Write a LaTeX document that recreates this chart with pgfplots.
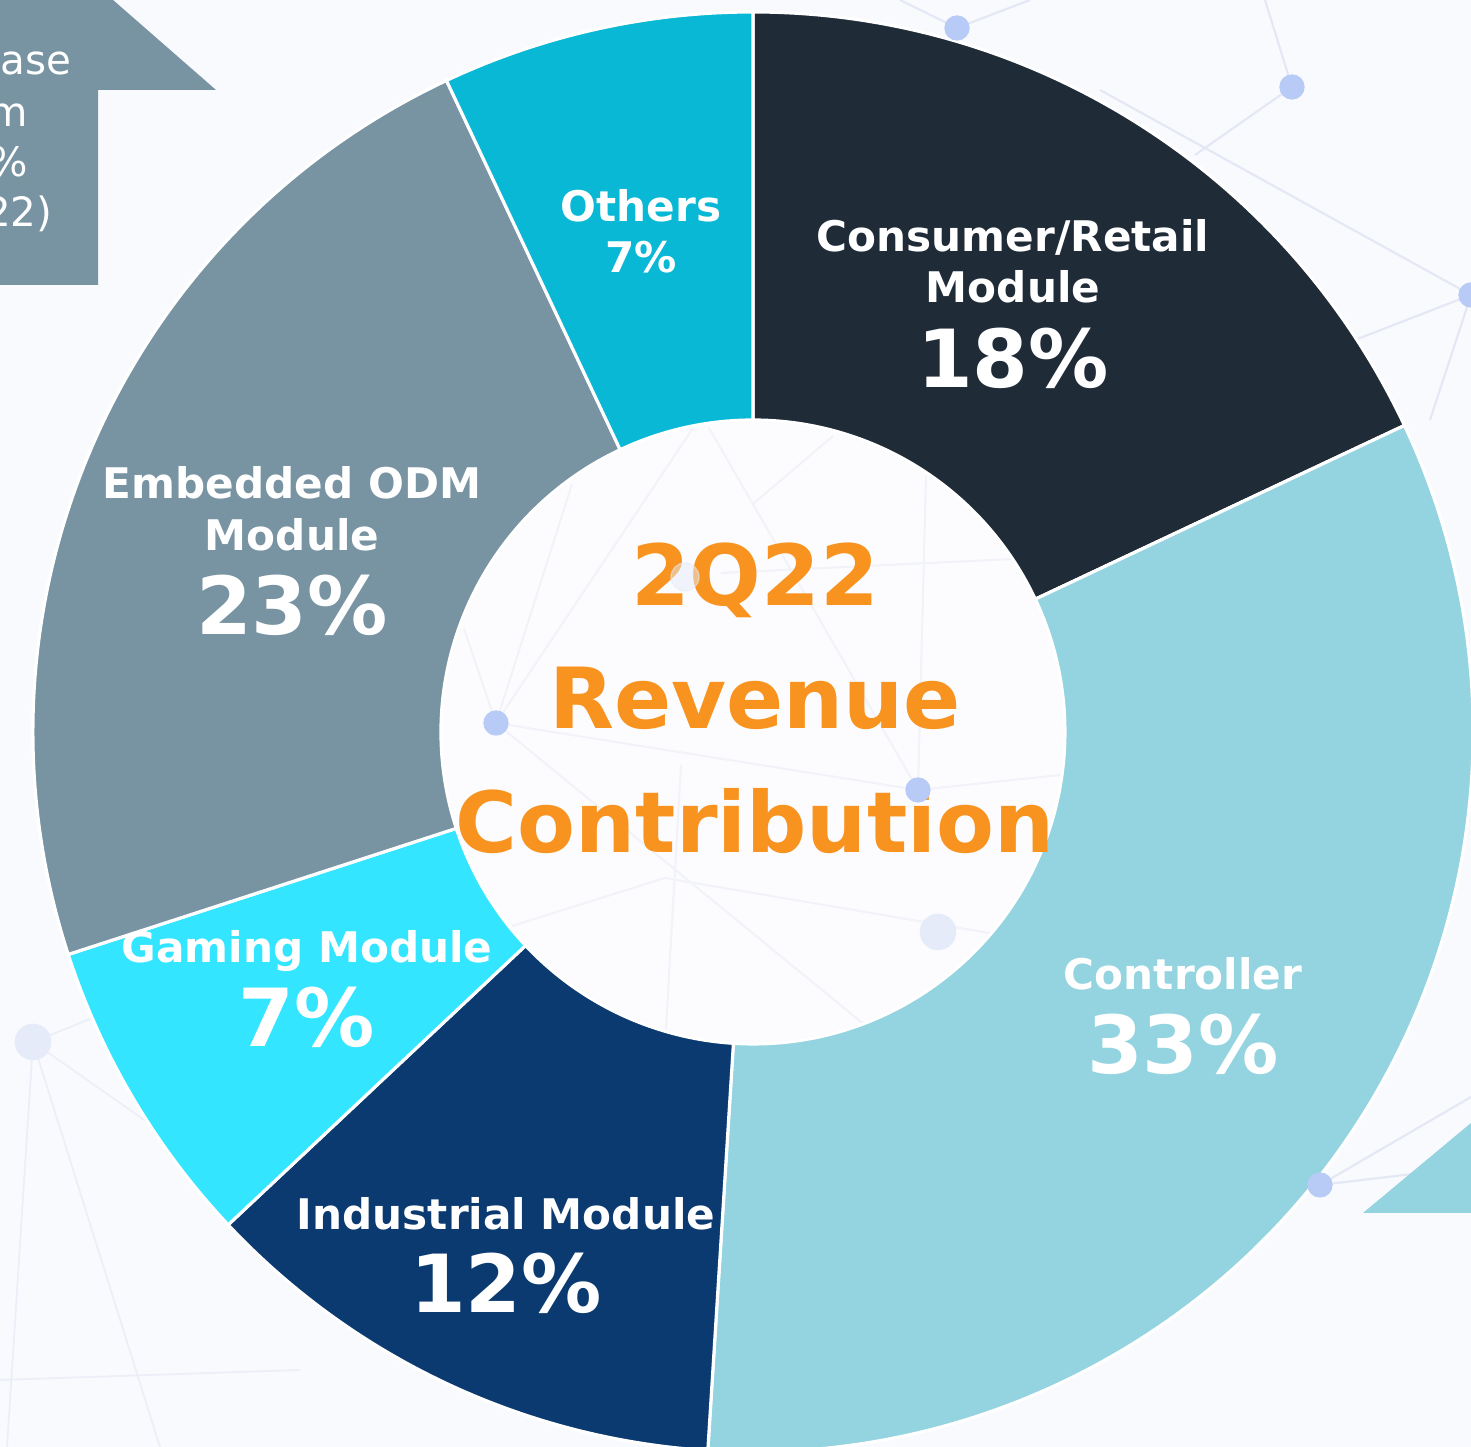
\documentclass[border=0pt]{standalone}
\usepackage{pgfplots}
\pgfplotsset{compat=1.18}
\usepackage{pgfplotstable}
\usepackage{fontspec}
\setmainfont{DejaVu Sans}
\definecolor{bgc}{HTML}{F9FAFD}
\definecolor{netl}{HTML}{E4E8F4}
\definecolor{dotc}{HTML}{B8CBF6}
\definecolor{dotf}{HTML}{E6EBF9}
\definecolor{arrowgrey}{HTML}{7893A1}
\definecolor{orangec}{HTML}{F7931E}
\definecolor{segc0}{HTML}{202B38}
\definecolor{segc1}{HTML}{93D4E0}
\definecolor{segc2}{HTML}{0B3A70}
\definecolor{segc3}{HTML}{33E5FF}
\definecolor{segc4}{HTML}{7893A2}
\definecolor{segc5}{HTML}{08B8D4}
\pgfplotstableread{
seg value
Consumer 18
Controller 33
Industrial 12
Gaming 7
Embedded 23
Others 7
}\revtable
\pgfplotstablecreatecol[create col/expr accum={\pgfmathaccuma + \thisrow{value}}{0}]{cum}\revtable
\newcommand{\cx}{7.53}
\newcommand{\cy}{7.15}
\newcommand{\Rout}{7.20}
\newcommand{\Rin}{3.12}
\begin{document}
\begin{tikzpicture}
\path[use as bounding box] (0,0) rectangle (14.71,14.47);
\clip (0,0) rectangle (14.71,14.47);
\begin{axis}[x=1cm,y=1cm,xmin=0,xmax=14.71,ymin=0,ymax=14.47,hide axis,clip=true]
\fill[bgc] (axis cs:0,0) rectangle (axis cs:14.71,14.47);
% background network
\addplot[netl, line width=0.6pt, no marks] coordinates {(12.65,14.47) (12.92,13.60) (11.95,12.92)};
\addplot[netl, line width=0.6pt, no marks] coordinates {(11.00,13.57) (14.71,11.52)};
\addplot[netl, line width=0.6pt, no marks] coordinates {(13.55,11.07) (14.71,11.52) (14.30,10.27)};
\addplot[netl, line width=0.6pt, no marks] coordinates {(9.00,14.47) (9.57,14.19) (10.30,14.47)};
\addplot[netl, line width=0.5pt, no marks, opacity=0.6] coordinates {(0.07,0) (0.33,4.05) (1.60,0)};
\addplot[netl, line width=0.5pt, no marks, opacity=0.6] coordinates {(1.00,4.32) (0.33,4.05) (1.80,3.02)};
\addplot[netl, line width=0.5pt, no marks, opacity=0.6] coordinates {(0,0.67) (3.00,0.77)};
\addplot[netl, line width=0.6pt, no marks] coordinates {(14.71,3.50) (13.20,2.62) (14.30,2.75)};
\addplot[netl, line width=0.6pt, no marks] coordinates {(9.18,6.57) (4.96,7.24) (6.93,10.19)};
\addplot[netl, line width=0.6pt, no marks] coordinates {(5.72,9.63) (4.96,7.24) (4.64,8.18)};
\addplot[netl, line width=0.6pt, no marks] coordinates {(4.96,7.24) (8.66,4.21)};
\addplot[netl, line width=0.6pt, no marks] coordinates {(7.09,10.19) (9.18,6.57) (10.60,6.72)};
\addplot[netl, line width=0.6pt, no marks] coordinates {(9.26,9.71) (9.18,6.57)};
\addplot[netl, line width=0.6pt, no marks] coordinates {(7.53,9.43) (8.33,10.11)};
\addplot[netl, line width=0.6pt, no marks] coordinates {(7.21,8.74) (10.54,8.90)};
\addplot[netl, line width=0.6pt, no marks] coordinates {(5.12,5.21) (6.65,5.69) (10.42,5.05)};
\addplot[netl, line width=0.6pt, no marks] coordinates {(6.81,6.82) (6.65,4.01)};
\addplot[only marks, mark=*, color=dotf, mark size=5pt] coordinates {(9.38,5.15) (0.33,4.05)};
\addplot[only marks, mark=*, color=dotf, mark size=4pt, opacity=0.5] coordinates {(6.85,8.70)};
\addplot[only marks, mark=*, color=dotc, mark size=3.4pt] coordinates {(9.57,14.19) (12.92,13.60) (14.71,11.52) (4.96,7.24) (9.18,6.57) (13.20,2.62)};
% arrow shapes
\fill[arrowgrey] (axis cs:0,14.47) -- (axis cs:1.13,14.47) -- (axis cs:2.16,13.57) -- (axis cs:0.98,13.57) -- (axis cs:0.98,11.62) -- (axis cs:0,11.62) -- cycle;
\fill[segc1] (axis cs:13.63,2.34) -- (axis cs:14.71,2.34) -- (axis cs:14.71,3.24) -- cycle;
% donut wedges
\pgfplotsinvokeforeach{0,...,5}{
  \pgfplotstablegetelem{#1}{value}\of\revtable \let\segval=\pgfplotsretval
  \pgfplotstablegetelem{#1}{cum}\of\revtable \let\segcum=\pgfplotsretval
  \pgfmathsetmacro\aA{90-3.6*(\segcum-\segval)}
  \pgfmathsetmacro\aB{90-3.6*\segcum}
  \pgfmathsetmacro\xA{\cx+\Rout*cos(\aA)}
  \pgfmathsetmacro\yA{\cy+\Rout*sin(\aA)}
  \pgfmathsetmacro\xB{\cx+\Rin*cos(\aB)}
  \pgfmathsetmacro\yB{\cy+\Rin*sin(\aB)}
  \edef\temp{\noexpand\fill[fill=segc#1, draw=white, line width=0.9pt, line join=miter] (axis cs:\xA,\yA) arc[start angle=\aA, end angle=\aB, radius=\Rout] -- (axis cs:\xB,\yB) arc[start angle=\aB, end angle=\aA, radius=\Rin] -- cycle;}
  \temp
}
\fill[white, opacity=0.5] (axis cs:\cx,\cy) circle[radius=3.10];
% arrow text
\tikzset{arr/.style={anchor=base east, text=white, inner sep=0pt, font=\fontsize{11.5}{13}\selectfont}}
\node[arr] at (axis cs:0.72,13.72) {ase};
\node[arr] at (axis cs:0.29,13.20) {m};
\node[arr] at (axis cs:0.29,12.70) {0\%};
\node[arr] at (axis cs:0.53,12.20) {22)};
% labels
\tikzset{lab/.style={anchor=base, text=white, inner sep=0pt, font=\bfseries\fontsize{12}{14}\selectfont},
         pct/.style={anchor=base, text=white, inner sep=0pt, font=\bfseries\fontsize{22.8}{26}\selectfont},
         ctr/.style={anchor=base, text=orangec, inner sep=0pt, font=\bfseries\fontsize{24}{28}\selectfont}}
\node[lab] at (axis cs:10.13,11.95) {Consumer/Retail};
\node[lab] at (axis cs:10.13,11.44) {Module};
\node[pct] at (axis cs:10.13,10.59) {18\%};
\node[lab] at (axis cs:6.41,12.25) {Others};
\node[lab] at (axis cs:6.41,11.74) {7\%};
\node[lab] at (axis cs:2.92,9.48) {Embedded ODM};
\node[lab] at (axis cs:2.92,8.96) {Module};
\node[pct] at (axis cs:2.92,8.12) {23\%};
\node[lab] at (axis cs:3.07,4.84) {Gaming Module};
\node[pct] at (axis cs:3.07,4.00) {7\%};
\node[lab] at (axis cs:5.06,2.17) {Industrial Module};
\node[pct] at (axis cs:5.06,1.34) {12\%};
\node[lab] at (axis cs:11.83,4.57) {Controller};
\node[pct] at (axis cs:11.83,3.73) {33\%};
\node[ctr] at (axis cs:7.55,8.41) {2Q22};
\node[ctr] at (axis cs:7.55,7.18) {Revenue};
\node[ctr] at (axis cs:7.55,5.94) {Contribution};
\end{axis}
\end{tikzpicture}
\end{document}
